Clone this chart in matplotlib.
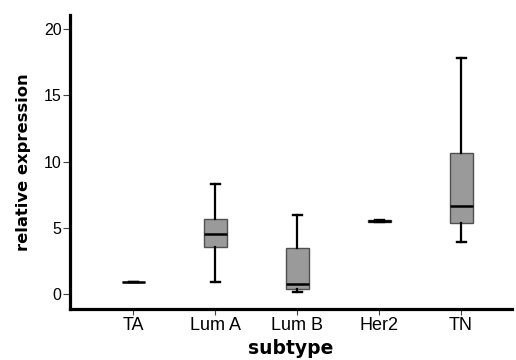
import matplotlib
matplotlib.use("Agg")
import matplotlib.pyplot as plt

categories = ["TA", "Lum A", "Lum B", "Her2", "TN"]
whislo = [0.93, 0.93, 0.17, 5.45, 3.9]
q1 = [0.93, 3.57, 0.35, 5.45, 5.39]
med = [0.93, 4.5, 0.76, 5.5, 6.65]
q3 = [0.93, 5.69, 3.5, 5.58, 10.63]
whishi = [0.93, 8.33, 5.97, 5.58, 17.85]
yticks = [0, 5, 10, 15, 20]

plt.rcParams['font.family'] = ['Liberation Sans', 'DejaVu Sans']

fig = plt.figure(figsize=(5.16, 3.6), dpi=100)
ax = fig.add_axes([0.1357, 0.1417, 0.992 - 0.1357, 0.958 - 0.1417])

stats = []
for i, c in enumerate(categories):
    stats.append(dict(label=c, whislo=whislo[i], q1=q1[i], med=med[i],
                      q3=q3[i], whishi=whishi[i], fliers=[]))

ax.bxp(stats, positions=range(len(categories)), widths=0.28,
       patch_artist=True, showfliers=False,
       boxprops=dict(facecolor='#9a9a9a', edgecolor='#505050', linewidth=1.0),
       medianprops=dict(color='black', linewidth=1.8),
       whiskerprops=dict(color='black', linewidth=1.6),
       capprops=dict(color='black', linewidth=1.7),
       capwidths=0.11)

ax.set_xlim(-0.77, 4.62)
ax.set_ylim(-1.13, 21.07)
ax.set_yticks(yticks)
ax.set_xticks(range(len(categories)))
ax.set_xticklabels(categories)
for s in ['top', 'right']:
    ax.spines[s].set_visible(False)
for s in ['left', 'bottom']:
    ax.spines[s].set_linewidth(2.3)
ax.tick_params(axis='y', labelsize=11.5, length=5, width=0.8, color='#444444', pad=1)
ax.tick_params(axis='x', labelsize=13, length=4, width=0.8, color='#444444', pad=2)
ax.set_ylabel("relative expression", fontsize=11.8, fontweight='bold',
              family='DejaVu Sans', labelpad=9)
ax.set_xlabel("subtype", fontsize=13.5, fontweight='bold',
              family='DejaVu Sans', labelpad=3.5)

fig.savefig("out.png", dpi=100)
